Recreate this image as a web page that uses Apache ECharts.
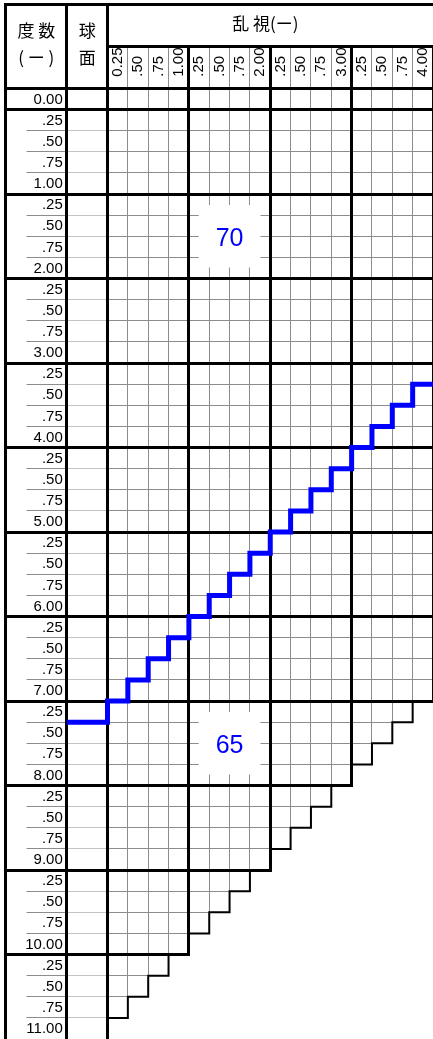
<!DOCTYPE html>
<html>
<head>
<meta charset="utf-8">
<script src="https://cdn.jsdelivr.net/npm/echarts@6/dist/echarts.min.js"></script>
<style>
  html, body { margin: 0; padding: 0; background: #fff; }
  #chart { width: 433px; height: 1039px; }
</style>
</head>
<body>
<div id="chart"></div>
<script>
// rows: 度数 (sphere), columns: 乱視 (cylinder)
var spheres = [0.00, 0.25, 0.50, 0.75, 1.00, 1.25, 1.50, 1.75, 2.00, 2.25, 2.50, 2.75, 3.00,
  3.25, 3.50, 3.75, 4.00, 4.25, 4.50, 4.75, 5.00, 5.25, 5.50, 5.75, 6.00, 6.25, 6.50, 6.75, 7.00,
  7.25, 7.50, 7.75, 8.00, 8.25, 8.50, 8.75, 9.00, 9.25, 9.50, 9.75, 10.00, 10.25, 10.50, 10.75, 11.00];
var sphereLabels = ['0.00', '.25', '.50', '.75', '1.00', '.25', '.50', '.75', '2.00', '.25', '.50', '.75', '3.00',
  '.25', '.50', '.75', '4.00', '.25', '.50', '.75', '5.00', '.25', '.50', '.75', '6.00', '.25', '.50', '.75', '7.00',
  '.25', '.50', '.75', '8.00', '.25', '.50', '.75', '9.00', '.25', '.50', '.75', '10.00', '.25', '.50', '.75', '11.00'];
var cylinders = [0.25, 0.50, 0.75, 1.00, 1.25, 1.50, 1.75, 2.00, 2.25, 2.50, 2.75, 3.00, 3.25, 3.50, 3.75, 4.00];
var cylLabels = ['0.25', '.50', '.75', '1.00', '.25', '.50', '.75', '2.00', '.25', '.50', '.75', '3.00', '.25', '.50', '.75', '4.00'];
// per column (球面 first, then each cylinder): last row still in the 70 zone
var limit70 = [7.25, 7.00, 6.75, 6.50, 6.25, 6.00, 5.75, 5.50, 5.25, 5.00, 4.75, 4.50, 4.25, 4.00, 3.75, 3.50, 3.25];
// per column (球面 first): last row that exists at all
var limitMax = [11.00, 10.75, 10.50, 10.25, 10.00, 9.75, 9.50, 9.25, 9.00, 8.75, 8.50, 8.25, 8.00, 7.75, 7.50, 7.25, 7.00];
var zoneNames = ['70', '65'];
var zoneCyl = [1.50, 1.50];
var zoneSph = [1.50, 7.50];

// layout in axis units
var STEP = 0.25;
var X_LEFT = -1.25, X_LINE = -1.0, X_SPH = -0.5, X_GRID = 0, X_ROWLABEL = -0.55;
var Y_TOP = -1.25, Y_SUB = -0.75, Y_HEAD = -0.25, Y_CYLLABEL = -0.39;
var xEnd = cylinders[cylinders.length - 1];
var yEnd = spheres[spheres.length - 1];
var NUM_FONT = '"Liberation Sans", Arial, sans-serif';
var CJK_FONT = '"Noto Sans CJK JP", sans-serif';
var BLUE = '#0000ff';

function rowExtent(s) {
  var e = X_GRID;
  cylinders.forEach(function (c, k) { if (limitMax[k + 1] >= s) e = c; });
  return e;
}

var thin = [], light = [], thick = [];
thick.push([X_LEFT, Y_TOP, xEnd, Y_TOP], [X_GRID, Y_SUB, xEnd, Y_SUB], [X_LEFT, Y_HEAD, xEnd, Y_HEAD]);
thick.push([X_LEFT, Y_TOP, X_LEFT, yEnd], [X_SPH, Y_TOP, X_SPH, yEnd], [X_GRID, Y_TOP, X_GRID, yEnd]);
spheres.forEach(function (s) {
  if (s === yEnd) return;
  if (s % 1 === 0) {
    thick.push([X_LEFT, s, rowExtent(s), s]);
  } else {
    thin.push([X_LINE, s, X_SPH, s]);
    light.push([X_SPH, s, X_GRID, s]);
    thin.push([X_GRID, s, rowExtent(s), s]);
  }
});
cylinders.forEach(function (c, k) {
  var seg = [c, Y_SUB, c, limitMax[k + 1]];
  if (c % 1 === 0) thick.push(seg); else thin.push(seg);
});

var stairs = [];
cylinders.forEach(function (c, k) {
  stairs.push([c - STEP, limitMax[k + 1]], [c, limitMax[k + 1]]);
});
var border70 = [[X_SPH, limit70[0]], [X_GRID, limit70[0]]];
cylinders.forEach(function (c, k) {
  border70.push([c - STEP, limit70[k + 1]], [c, limit70[k + 1]]);
});

function crisp(v, w) { return w % 2 ? Math.round(v - 0.5) + 0.5 : Math.round(v); }

function segSeries(data, color, width, z) {
  return {
    type: 'custom', z: z, silent: true, data: data,
    renderItem: function (params, api) {
      var a = api.coord([api.value(0), api.value(1)]);
      var b = api.coord([api.value(2), api.value(3)]);
      return {
        type: 'line',
        shape: { x1: crisp(a[0], width), y1: crisp(a[1], width), x2: crisp(b[0], width), y2: crisp(b[1], width) },
        style: { stroke: color, lineWidth: width, lineCap: width > 2 ? 'square' : 'butt' }
      };
    }
  };
}

var chart = echarts.init(document.getElementById('chart'));
chart.setOption({
  animation: false,
  backgroundColor: '#fff',
  grid: { left: 5.8, top: 4, width: 430.5, height: 1035.1 },
  xAxis: { type: 'value', min: X_LEFT, max: xEnd, show: false },
  yAxis: { type: 'value', min: Y_TOP, max: yEnd, inverse: true, show: false },
  series: [
    segSeries(light, '#c4c4c4', 1, 1),
    segSeries(thin, '#8c8c8c', 1, 1),
    {
      // white patches behind the zone numbers
      type: 'custom', z: 2, silent: true,
      data: zoneNames.map(function (n, i) { return [zoneCyl[i], zoneSph[i], i]; }),
      renderItem: function (params, api) {
        var cx = api.value(0), cy = api.value(1);
        var p0 = api.coord([cx - 0.38, cy - 0.37]);
        var p1 = api.coord([cx + 0.38, cy + 0.37]);
        var c = api.coord([cx, cy]);
        return {
          type: 'group',
          children: [
            { type: 'rect', shape: { x: p0[0], y: p0[1], width: p1[0] - p0[0], height: p1[1] - p0[1] }, style: { fill: '#fff' } },
            { type: 'text', x: c[0], y: c[1] + 3, style: { text: zoneNames[api.value(2)], fill: BLUE, fontSize: 25, fontFamily: NUM_FONT, align: 'center', verticalAlign: 'middle' } }
          ]
        };
      }
    },
    segSeries(thick, '#000', 3, 3),
    {
      type: 'line', z: 3, silent: true, data: stairs, showSymbol: false,
      lineStyle: { color: '#000', width: 2, join: 'miter' }
    },
    {
      type: 'line', z: 4, silent: true, data: border70, showSymbol: false,
      lineStyle: { color: BLUE, width: 5, join: 'miter', cap: 'butt' }
    },
    {
      // 度数 row labels
      type: 'custom', z: 5, silent: true,
      data: spheres.map(function (s, i) { return [X_ROWLABEL, s - STEP / 2, i]; }),
      renderItem: function (params, api) {
        var p = api.coord([api.value(0), api.value(1)]);
        return { type: 'text', x: p[0], y: p[1] + 0.5, style: { text: sphereLabels[api.value(2)], fill: '#000', fontSize: 15, fontFamily: NUM_FONT, align: 'right', verticalAlign: 'middle' } };
      }
    },
    {
      // 乱視 column labels, written upwards
      type: 'custom', z: 5, silent: true,
      data: cylinders.map(function (c, i) { return [c - STEP / 2, Y_CYLLABEL, i]; }),
      renderItem: function (params, api) {
        var p = api.coord([api.value(0), api.value(1)]);
        return { type: 'text', x: p[0], y: p[1], rotation: Math.PI / 2, style: { text: cylLabels[api.value(2)], fill: '#000', fontSize: 15, fontFamily: NUM_FONT, align: 'left', verticalAlign: 'middle' } };
      }
    },
    {
      // header titles
      type: 'custom', z: 5, silent: true,
      data: [[X_GRID, Y_TOP]],
      renderItem: function (params, api) {
        function t(str, x, y) {
          var p = api.coord([x, y]);
          return { type: 'text', x: p[0], y: p[1], style: { text: str, fill: '#000', fontSize: 17, fontFamily: CJK_FONT, align: 'center', verticalAlign: 'middle' } };
        }
        return {
          type: 'group',
          children: [
            t('度 数', -0.875, -0.94),
            t('( ー )', -0.875, -0.62),
            t('球', -0.25, -0.94),
            t('面', -0.25, -0.62),
            t('乱 視(ー)', 1.94, -1.02)
          ]
        };
      }
    }
  ]
});
</script>
</body>
</html>
